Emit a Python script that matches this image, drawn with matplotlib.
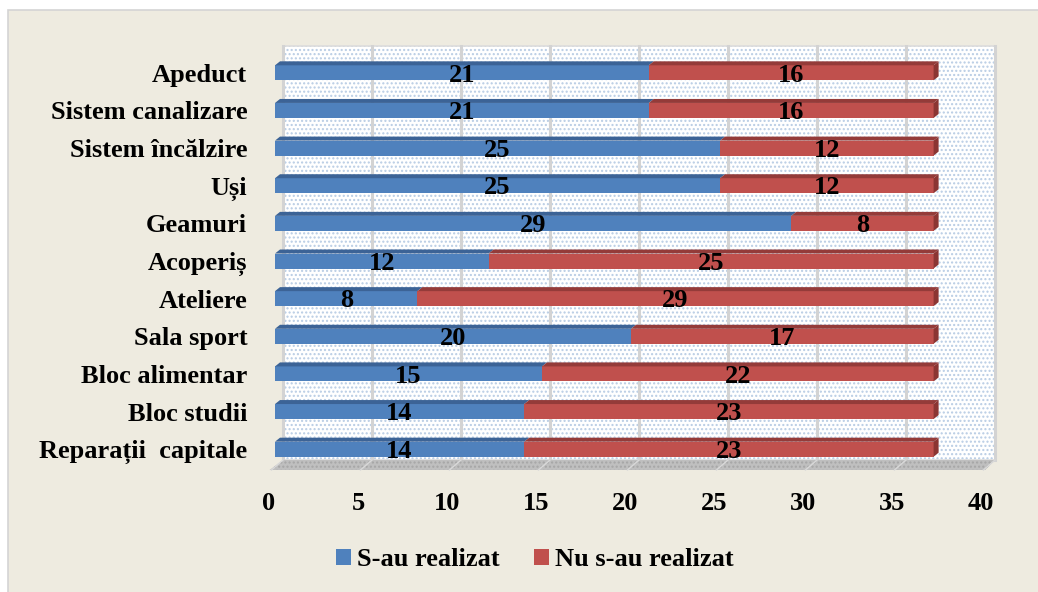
import matplotlib
matplotlib.use("Agg")
from matplotlib import pyplot as plt
from matplotlib.patches import Rectangle, Polygon
import matplotlib.transforms as mtransforms
import numpy as np

# data
categories = ["Apeduct", "Sistem canalizare", "Sistem încălzire", "Uși", "Geamuri",
              "Acoperiș", "Ateliere", "Sala sport", "Bloc alimentar", "Bloc studii",
              "Reparații  capitale"]
realizat = [21, 21, 25, 25, 29, 12, 8, 20, 15, 14, 14]
nerealizat = [16, 16, 12, 12, 8, 25, 29, 17, 22, 23, 23]
series_names = ["S-au realizat", "Nu s-au realizat"]
xticks = [0, 5, 10, 15, 20, 25, 30, 35, 40]

plt.rcParams['font.family'] = ['Liberation Serif', 'DejaVu Serif']
plt.rcParams['font.weight'] = 'bold'

W, H = 1038, 592
fig = plt.figure(figsize=(W / 100, H / 100), dpi=100, facecolor='white')

# outer chart frame
bg = Rectangle((8 / W, -0.05), 1, 1.05 - 10 / H, transform=fig.transFigure,
               facecolor='#eeebe0', edgecolor='#d4d4d4', lw=1.2, zorder=-10)
fig.patches.append(bg)

left, right, top, bottom = 275, 987, 54, 468
ax = fig.add_axes([left / W, 1 - bottom / H, (right - left) / W, (bottom - top) / H])
ax.set_xlim(0, 40)
n = len(categories)
ax.set_ylim(n - 0.5, -0.5)
ax.set_facecolor('none')
for s in ax.spines.values():
    s.set_visible(False)

# pixel -> data scales
px_x = 40 / (right - left)
px_y = n / (bottom - top)

blue, red = '#4f81bd', '#c0504d'
blue_d, red_d = '#3c6396', '#943b39'
fs = 19

# back wall
wdx, wdy = 8 * px_x, 8 * px_y
wall_top = -0.5 - wdy
ax.add_patch(Rectangle((wdx, wall_top), 40, n, facecolor='white',
                       edgecolor='#b8cce4', hatch='....', lw=0, clip_on=False, zorder=0))
ax.add_patch(Rectangle((wdx, wall_top), 40, n, facecolor='none',
                       edgecolor='#dcdcdc', lw=1.2, clip_on=False, zorder=0.5))
for t in xticks:
    ax.plot([t + wdx, t + wdx], [wall_top, n - 0.5 - wdy], color='#d3d3d3',
            lw=2.2, clip_on=False, zorder=1)

# floor
fy0 = n - 0.5 - wdy
fy1 = n - 0.5 + 2 * px_y
floor = Polygon([(wdx, fy0), (40 + wdx, fy0), (40 - 0.1, fy1), (-0.3, fy1)],
                closed=True, facecolor='#bfbfbf', edgecolor='#a6a6a6', hatch='....',
                lw=0, clip_on=False, zorder=1)
ax.add_patch(floor)
for t in xticks:
    ax.plot([t + wdx, t - 0.2], [fy0, fy1], color='#d9d9d9', lw=1, clip_on=False, zorder=1.5)

# bars
y = np.arange(n)
bh = 15 * px_y
ddx, ddy = 5 * px_x, 4 * px_y
ax.barh(y, realizat, height=bh, color=blue, zorder=3, label=series_names[0])
ax.barh(y, nerealizat, left=realizat, height=bh, color=red, zorder=3, label=series_names[1])
for i in range(n):
    a, b = realizat[i], nerealizat[i]
    yt = i - bh / 2
    yb = i + bh / 2
    ax.add_patch(Polygon([(0, yt), (a, yt), (a + ddx, yt - ddy), (ddx, yt - ddy)],
                         facecolor=blue_d, lw=0, zorder=3, clip_on=False))
    ax.add_patch(Polygon([(a, yt), (a + b, yt), (a + b + ddx, yt - ddy), (a + ddx, yt - ddy)],
                         facecolor=red_d, lw=0, zorder=3, clip_on=False))
    ax.add_patch(Polygon([(a + b, yt), (a + b + ddx, yt - ddy), (a + b + ddx, yb - ddy), (a + b, yb)],
                         facecolor='#8b3533', lw=0, zorder=3, clip_on=False))
    ax.text(a / 2, i + 0.06, str(a), ha='center', va='center', fontsize=fs,
            fontweight='bold', zorder=5)
    ax.text(a + b / 2, i + 0.06, str(b), ha='center', va='center', fontsize=fs,
            fontweight='bold', zorder=5)

ax.set_yticks(y)
ax.set_yticklabels(categories, fontsize=fs, fontweight='bold')
ax.set_xticks(xticks)
ax.set_xticklabels([str(t) for t in xticks], fontsize=fs, fontweight='bold')
ax.tick_params(axis='y', length=0, pad=20)
ax.tick_params(axis='x', length=0, pad=17)
shift = mtransforms.ScaledTranslation(-6 / 100, 0, fig.dpi_scale_trans)
for lbl in ax.get_xticklabels():
    lbl.set_transform(lbl.get_transform() + shift)

fig.legend(loc='center', bbox_to_anchor=(535 / W, 1 - 560 / H), ncol=2, frameon=False,
           prop={'size': fs, 'weight': 'bold'}, handlelength=0.55, handleheight=0.55,
           handletextpad=0.25, columnspacing=1.3)

plt.savefig('out.png', dpi=100, facecolor=fig.get_facecolor())
